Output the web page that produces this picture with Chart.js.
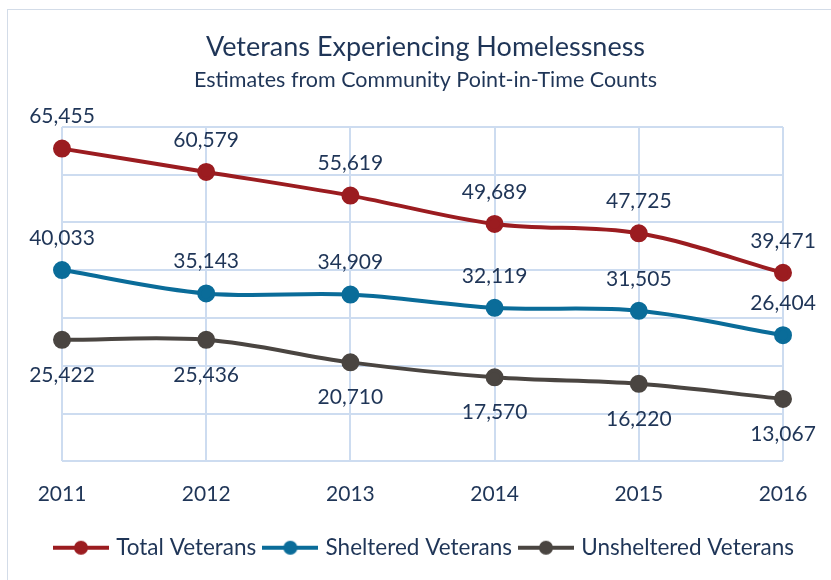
<!DOCTYPE html>
<html>
<head>
<meta charset="utf-8">
<script src="https://cdn.jsdelivr.net/npm/chart.js@4/dist/chart.umd.min.js"></script>
<style>
  html, body { margin: 0; padding: 0; background: #fff; overflow: hidden; }
  #wrap { position: relative; width: 831px; height: 580px; }
  #frame { position: absolute; left: 7px; top: 9px; width: 840px; height: 600px; border: 1.5px solid #d3dce8; box-sizing: border-box; }
  canvas { position: absolute; left: 0; top: 0; }
</style>
</head>
<body>
<div id="wrap">
  <div id="frame"></div>
  <canvas id="c" width="831" height="580"></canvas>
</div>
<script>
const years = ['2011', '2012', '2013', '2014', '2015', '2016'];
const totalVeterans = [65455, 60579, 55619, 49689, 47725, 39471];
const shelteredVeterans = [40033, 35143, 34909, 32119, 31505, 26404];
const unshelteredVeterans = [25422, 25436, 20710, 17570, 16220, 13067];
const seriesNames = ['Total Veterans', 'Sheltered Veterans', 'Unsheltered Veterans'];

const FONT = "Lato, 'Open Sans', sans-serif";
const TEXT = '#1f3557';
const colors = ['#9b1c20', '#0a6c99', '#4a4541'];
const labelOffsets = [-32, -32, 35];

function legendIcon(color) {
  const c = document.createElement('canvas');
  c.width = 56; c.height = 16;
  const g = c.getContext('2d');
  g.strokeStyle = color; g.lineWidth = 4;
  g.beginPath(); g.moveTo(0, 8); g.lineTo(56, 8); g.stroke();
  g.fillStyle = color;
  g.beginPath(); g.arc(28, 8, 7, 0, Math.PI * 2); g.fill();
  return c;
}

const dataLabels = {
  id: 'dataLabels',
  afterDatasetsDraw(chart) {
    const ctx = chart.ctx;
    ctx.save();
    ctx.font = '21px ' + FONT;
    ctx.fillStyle = TEXT;
    ctx.textAlign = 'center';
    ctx.textBaseline = 'middle';
    chart.data.datasets.forEach((ds, i) => {
      const meta = chart.getDatasetMeta(i);
      meta.data.forEach((pt, j) => {
        ctx.fillText(ds.data[j].toLocaleString('en-US'), pt.x, pt.y + ds.labelOffset);
      });
    });
    ctx.restore();
  }
};

const seriesData = [totalVeterans, shelteredVeterans, unshelteredVeterans];

new Chart(document.getElementById('c'), {
  type: 'line',
  data: {
    labels: years,
    datasets: seriesNames.map((name, i) => ({
      label: name,
      data: seriesData[i],
      borderColor: colors[i],
      backgroundColor: colors[i],
      pointBackgroundColor: colors[i],
      pointBorderColor: colors[i],
      pointRadius: 7,
      pointHoverRadius: 7,
      borderWidth: 4,
      tension: 0.35,
      labelOffset: labelOffsets[i],
      pointStyle: 'circle',
      legendIcon: legendIcon(colors[i])
    }))
  },
  options: {
    responsive: false,
    animation: false,
    devicePixelRatio: 1,
    layout: { padding: { left: 20, right: 0, top: 31, bottom: 11 } },
    scales: {
      x: {
        grid: { color: '#cddcf0', lineWidth: 2, drawTicks: false },
        border: { display: false },
        ticks: { color: TEXT, font: { family: FONT, size: 21 }, padding: 20 }
      },
      y: {
        min: 0, max: 70000,
        ticks: { display: false, stepSize: 10000 },
        grid: { color: '#cddcf0', lineWidth: 2, drawTicks: false },
        border: { display: false },
        afterFit: (s) => { s.width = 42; }
      },
      yRight: {
        position: 'right',
        min: 0, max: 70000,
        ticks: { display: false },
        grid: { display: false, drawTicks: false },
        border: { display: false },
        afterFit: (s) => { s.width = 48; }
      }
    },
    plugins: {
      title: {
        display: true,
        text: 'Veterans Experiencing Homelessness',
        color: TEXT,
        font: { family: FONT, size: 27, weight: 'normal', lineHeight: 1.2 },
        padding: { top: 0, bottom: 3.7 }
      },
      subtitle: {
        display: true,
        text: 'Estimates from Community Point-in-Time Counts',
        color: TEXT,
        font: { family: FONT, size: 21.5, weight: 'normal', lineHeight: 1.2 },
        padding: { top: 0, bottom: 34 }
      },
      legend: {
        position: 'bottom',
        labels: {
          usePointStyle: true,
          pointStyleWidth: 48,
          color: TEXT,
          font: { family: FONT, size: 22.5 },
          padding: 10,
          generateLabels: (chart) => chart.data.datasets.map((ds, i) => ({
            text: ds.label,
            pointStyle: ds.legendIcon,
            fillStyle: ds.borderColor,
            strokeStyle: ds.borderColor,
            lineWidth: 0,
            fontColor: TEXT,
            datasetIndex: i,
            hidden: false
          }))
        }
      },
      tooltip: { enabled: false }
    }
  },
  plugins: [dataLabels]
});
</script>
</body>
</html>
